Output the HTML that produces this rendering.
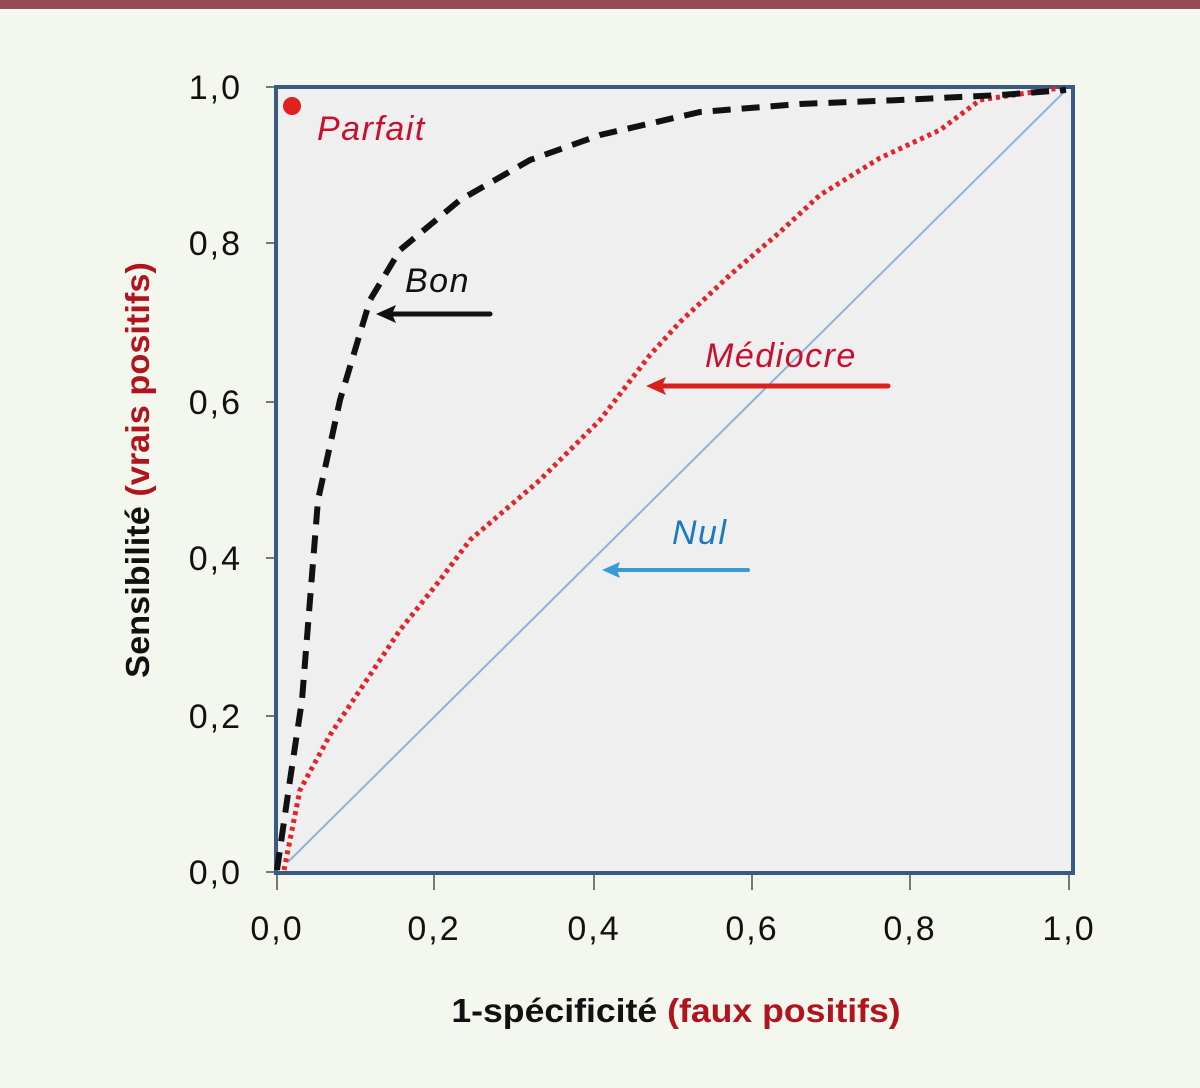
<!DOCTYPE html>
<html><head><meta charset="utf-8"><style>
html,body{margin:0;padding:0;background:#f3f7ee;}
</style></head><body>
<svg width="1200" height="1088" xmlns="http://www.w3.org/2000/svg" style="display:block">
<rect width="1200" height="1088" fill="#f3f7ee"/>
<rect x="0" y="0" width="1200" height="9" fill="#994a55"/>
<rect x="276" y="87" width="797" height="786" fill="#efefef"/>
<g stroke="#777" stroke-width="2">
<line x1="266" y1="87" x2="276" y2="87"/><line x1="266" y1="243" x2="276" y2="243"/><line x1="266" y1="402" x2="276" y2="402"/><line x1="266" y1="558" x2="276" y2="558"/><line x1="266" y1="716" x2="276" y2="716"/><line x1="266" y1="872" x2="276" y2="872"/>
<line x1="277" y1="873" x2="277" y2="890"/><line x1="434" y1="873" x2="434" y2="890"/><line x1="594" y1="873" x2="594" y2="890"/><line x1="752" y1="873" x2="752" y2="890"/><line x1="910" y1="873" x2="910" y2="890"/><line x1="1069" y1="873" x2="1069" y2="890"/>
</g>
<rect x="276" y="87" width="797" height="786" fill="none" stroke="#3b5a82" stroke-width="4"/>
<line x1="288" y1="862" x2="1066" y2="90" stroke="#8fb2d8" stroke-width="2"/>
<polyline fill="none" stroke="#e0262b" stroke-width="5" stroke-dasharray="4,4" points="284,870 300,790 330,735 360,690 400,630 440,580 470,540 540,480 600,420 650,355 680,322 730,275 780,232 820,195 880,158 940,130 980,100 1060,88"/>
<polyline fill="none" stroke="#111" stroke-width="6" stroke-dasharray="18,11" points="277,870 290,780 302,700 318,500 340,400 370,300 400,250 460,200 530,160 600,135 700,112 800,104 900,100 1000,95 1066,90"/>
<circle cx="292" cy="106" r="9" fill="#e0201e"/>
<g stroke-width="5" stroke-linecap="round">
<line x1="490" y1="314" x2="390" y2="314" stroke="#111"/>
<line x1="888" y1="386" x2="660" y2="386" stroke="#d8201f"/>
<line x1="748" y1="570" x2="615" y2="570" stroke="#3a9ad8" stroke-width="4"/>
</g>
<polygon points="376,314 396,305 392,314 396,323" fill="#111"/>
<polygon points="646,386 666,377 662,386 666,395" fill="#d8201f"/>
<polygon points="602,570 620,562 617,570 620,578" fill="#3a9ad8"/>
<g font-family="Liberation Sans, sans-serif" font-style="italic" font-size="34" letter-spacing="1.5">
<text x="317" y="140" fill="#c8102e">Parfait</text>
<text x="405" y="292" fill="#111">Bon</text>
<text x="705" y="367" fill="#c8102e">Médiocre</text>
<text x="672" y="544" fill="#1a7abf">Nul</text>
</g>
<g font-family="Liberation Sans, sans-serif" font-size="34" fill="#111" text-anchor="end" letter-spacing="2">
<text x="242" y="99">1,0</text>
<text x="242" y="255">0,8</text>
<text x="242" y="414">0,6</text>
<text x="242" y="570">0,4</text>
<text x="242" y="728">0,2</text>
<text x="242" y="884">0,0</text>
</g>
<g font-family="Liberation Sans, sans-serif" font-size="34" fill="#111" text-anchor="middle" letter-spacing="2">
<text x="277" y="940">0,0</text>
<text x="434" y="940">0,2</text>
<text x="594" y="940">0,4</text>
<text x="752" y="940">0,6</text>
<text x="910" y="940">0,8</text>
<text x="1069" y="940">1,0</text>
</g>
<g font-family="Liberation Sans, sans-serif" font-size="33" font-weight="bold">
<text x="676" y="1022" text-anchor="middle" transform="translate(676 0) scale(1.08 1) translate(-676 0)"><tspan fill="#111">1-spécificité </tspan><tspan fill="#b0141e">(faux positifs)</tspan></text>
<text x="0" y="0" text-anchor="middle" transform="translate(149 470) rotate(-90) scale(1.04 1)"><tspan fill="#111">Sensibilité </tspan><tspan fill="#b0141e">(vrais positifs)</tspan></text>
</g>
</svg>
</body></html>
